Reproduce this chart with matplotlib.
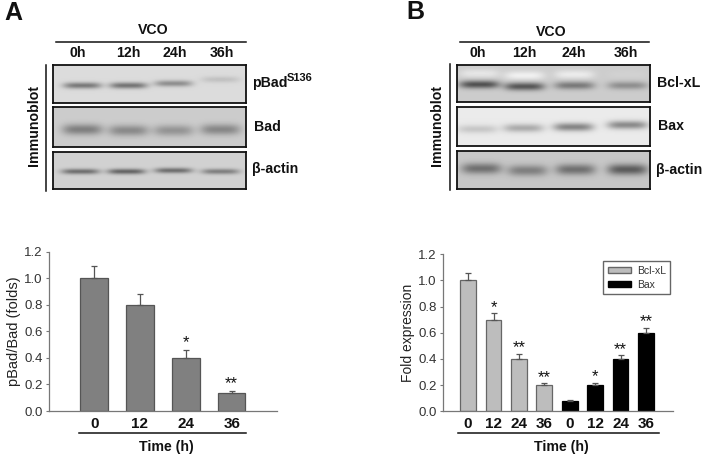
import numpy as np
import matplotlib
matplotlib.use("Agg")
import matplotlib.pyplot as plt
from matplotlib.patches import Patch

plt.rcParams['font.family'] = ['Liberation Sans', 'DejaVu Sans']

W, H = 703, 458

# panel A bars
times = ['0', '12', '24', '36']
pbad_vals = [1.0, 0.8, 0.4, 0.135]
pbad_err = [0.09, 0.08, 0.06, 0.015]
pbad_stars = ['', '', '*', '**']

# panel B bars
bcl_vals = [1.0, 0.7, 0.4, 0.2]
bcl_err = [0.06, 0.05, 0.04, 0.015]
bcl_stars = ['', '*', '**', '**']
bax_vals = [0.08, 0.2, 0.4, 0.6]
bax_err = [0.01, 0.02, 0.03, 0.04]
bax_stars = ['', '*', '**', '**']

yticks = [0.0, 0.2, 0.4, 0.6, 0.8, 1.0, 1.2]

# blot band strength per lane (0h, 12h, 24h, 36h)
lanes = ['0h', '12h', '24h', '36h']
pbad_bands = [0.38, 0.40, 0.30, 0.10]
bad_bands = [0.30, 0.26, 0.22, 0.27]
actin_a_bands = [0.38, 0.42, 0.38, 0.32]
bclxl_bands = [0.48, 0.46, 0.32, 0.24]
bclxl_halo = [0.10, 0.14, 0.12, 0.02]
bax_bands = [0.14, 0.25, 0.40, 0.38]
actin_b_bands = [0.34, 0.28, 0.34, 0.42]

fig = plt.figure(figsize=(W / 100, H / 100), dpi=100)


def px_axes(x0, y0, x1, y1):
    return fig.add_axes([x0 / W, 1 - y1 / H, (x1 - x0) / W, (y1 - y0) / H])


def label(x, y, s, size=10.2, weight='bold', rot=0, ha='center', color='#111111'):
    fig.text(x / W, 1 - y / H, s, fontsize=size, fontweight=weight, rotation=rot,
             ha=ha, va='center', color=color)


def rule(x0, x1, y0, y1=None):
    y1 = y0 if y1 is None else y1
    fig.add_artist(plt.Line2D([x0 / W, x1 / W], [1 - y0 / H, 1 - y1 / H], color='#111111', lw=1.1))


def blot(box, bands, centers, rows, band_w, band_h, bg, halo=None):
    x0, y0, x1, y1 = box
    ax = px_axes(x0, y0, x1, y1)
    xx, yy = np.meshgrid(np.arange(x0, x1), np.arange(y0, y1))
    img = np.full(xx.shape, bg, dtype=float)
    for s, cx, cy in zip(bands, centers, rows):
        img -= s * np.exp(-((xx - cx) / band_w) ** 4 - ((yy - cy) / band_h) ** 2)
    if halo:
        for s, cx, cy in zip(halo, centers, rows):
            img += s * np.exp(-((xx - cx) / band_w) ** 4 - ((yy - cy + 11) / 4.5) ** 2)
    ax.imshow(img, cmap='gray', vmin=0, vmax=1, aspect='auto', interpolation='bilinear')
    ax.set_xticks([])
    ax.set_yticks([])
    for sp in ax.spines.values():
        sp.set_linewidth(1.3)
        sp.set_color('#111111')


def style_bar_axes(ax, ylabel, tick_pos, tick_labels):
    ax.set_ylim(0, 1.2)
    ax.set_yticks(yticks)
    ax.set_yticklabels([f'{v:.1f}' for v in yticks], fontsize=9.5, color='#333333')
    ax.set_xticks(tick_pos)
    ax.set_xticklabels(tick_labels, fontsize=11, fontweight='bold', color='#111111')
    ax.tick_params(axis='x', length=0, pad=4)
    ax.tick_params(axis='y', length=2.5, width=0.8, color='#777777', pad=2)
    for side in ['top', 'right']:
        ax.spines[side].set_visible(False)
    for side in ['left', 'bottom']:
        ax.spines[side].set_color('#777777')
        ax.spines[side].set_linewidth(0.9)
    ax.set_ylabel(ylabel, fontsize=10.5, color='#222222', labelpad=2)


def bars(ax, x, vals, errs, stars, color, edge, width, star_gap):
    ax.bar(x, vals, width=width, color=color, edgecolor=edge, linewidth=0.9)
    ax.errorbar(x, vals, yerr=[np.zeros(len(errs)), errs], fmt='none', ecolor='#555555',
                elinewidth=0.9, capsize=2.2, capthick=0.9)
    for xi, v, e, s in zip(x, vals, errs, stars):
        if s:
            ax.text(xi, v + e + star_gap, s, ha='center', va='center', fontsize=12, color='#111111')


# panel A blots
label(13, 13, 'A', size=18)
label(153, 30, 'VCO')
rule(56, 246, 42)
for s, x in zip(lanes, [78, 128, 175, 222]):
    label(x, 53, s)
rule(45.5, 45.5, 65, 191)
label(34, 126, 'Immunoblot', rot=90)
blot((53, 65, 246, 103), pbad_bands, [82, 128, 173, 220], [85, 85, 83, 79], 19, 3.2, 0.86)
blot((53, 107, 246, 147), bad_bands, [82, 128, 173, 220], [129, 130, 130, 129], 20, 5.5, 0.80)
blot((53, 152, 246, 189), actin_a_bands, [80, 126, 173, 220], [171, 171, 170, 171], 19, 2.8, 0.82)
label(252, 83, 'pBad', ha='left')
label(287, 78, 'S136', size=8, ha='left')
label(254, 127, 'Bad', ha='left')
label(252, 169, 'β-actin', ha='left')

# panel B blots
label(415, 12, 'B', size=18)
label(551, 32, 'VCO')
rule(460, 649, 42)
for s, x in zip(lanes, [478, 524, 574, 626]):
    label(x, 53, s)
rule(449.5, 449.5, 64, 190)
label(437, 126, 'Immunoblot', rot=90)
blot((457, 65, 650, 102), bclxl_bands, [479, 524, 574, 627], [84, 86, 85, 85], 20, 4.0, 0.80, bclxl_halo)
blot((457, 107, 650, 146), bax_bands, [477, 523, 573, 627], [129, 128, 127, 125], 20, 4.0, 0.92)
blot((457, 151, 650, 189), actin_b_bands, [481, 527, 575, 627], [168, 170, 169, 169], 20, 5.5, 0.78)
label(657, 83, 'Bcl-xL', ha='left')
label(658, 126, 'Bax', ha='left')
label(656, 170, 'β-actin', ha='left')

# panel A bar chart
ax = px_axes(49, 251.7, 277, 411)
xa = np.arange(4)
bars(ax, xa, pbad_vals, pbad_err, pbad_stars, '#808080', '#555555', 0.6, 0.055)
ax.set_xlim(-0.985, 3.99)
style_bar_axes(ax, 'pBad/Bad (folds)', xa, times)
rule(79, 246, 433)
label(166, 447, 'Time (h)')

# panel B bar chart
ax = px_axes(442.7, 254.3, 672.7, 411.3)
xb = np.arange(8)
bars(ax, xb[:4], bcl_vals, bcl_err, bcl_stars, '#bdbdbd', '#666666', 0.62, 0.045)
bars(ax, xb[4:], bax_vals, bax_err, bax_stars, '#000000', '#000000', 0.62, 0.045)
ax.set_xlim(-1.0, 8.05)
style_bar_axes(ax, 'Fold expression', xb, times + times)
ax.yaxis.label.set_size(10)
handles = [Patch(facecolor='#bdbdbd', edgecolor='#666666', label='Bcl-xL'),
           Patch(facecolor='#000000', edgecolor='#000000', label='Bax')]
ax.legend(handles=handles, loc='upper right', bbox_to_anchor=(0.99, 0.955), borderaxespad=0,
          fontsize=7.5, frameon=True, fancybox=False, edgecolor='#666666', framealpha=1,
          borderpad=0.45, handlelength=2.2, handleheight=0.5, labelspacing=0.35,
          handletextpad=0.55, labelcolor='#333333')
rule(458, 659, 433)
label(561, 447, 'Time (h)')

fig.savefig('out.png', dpi=100)
